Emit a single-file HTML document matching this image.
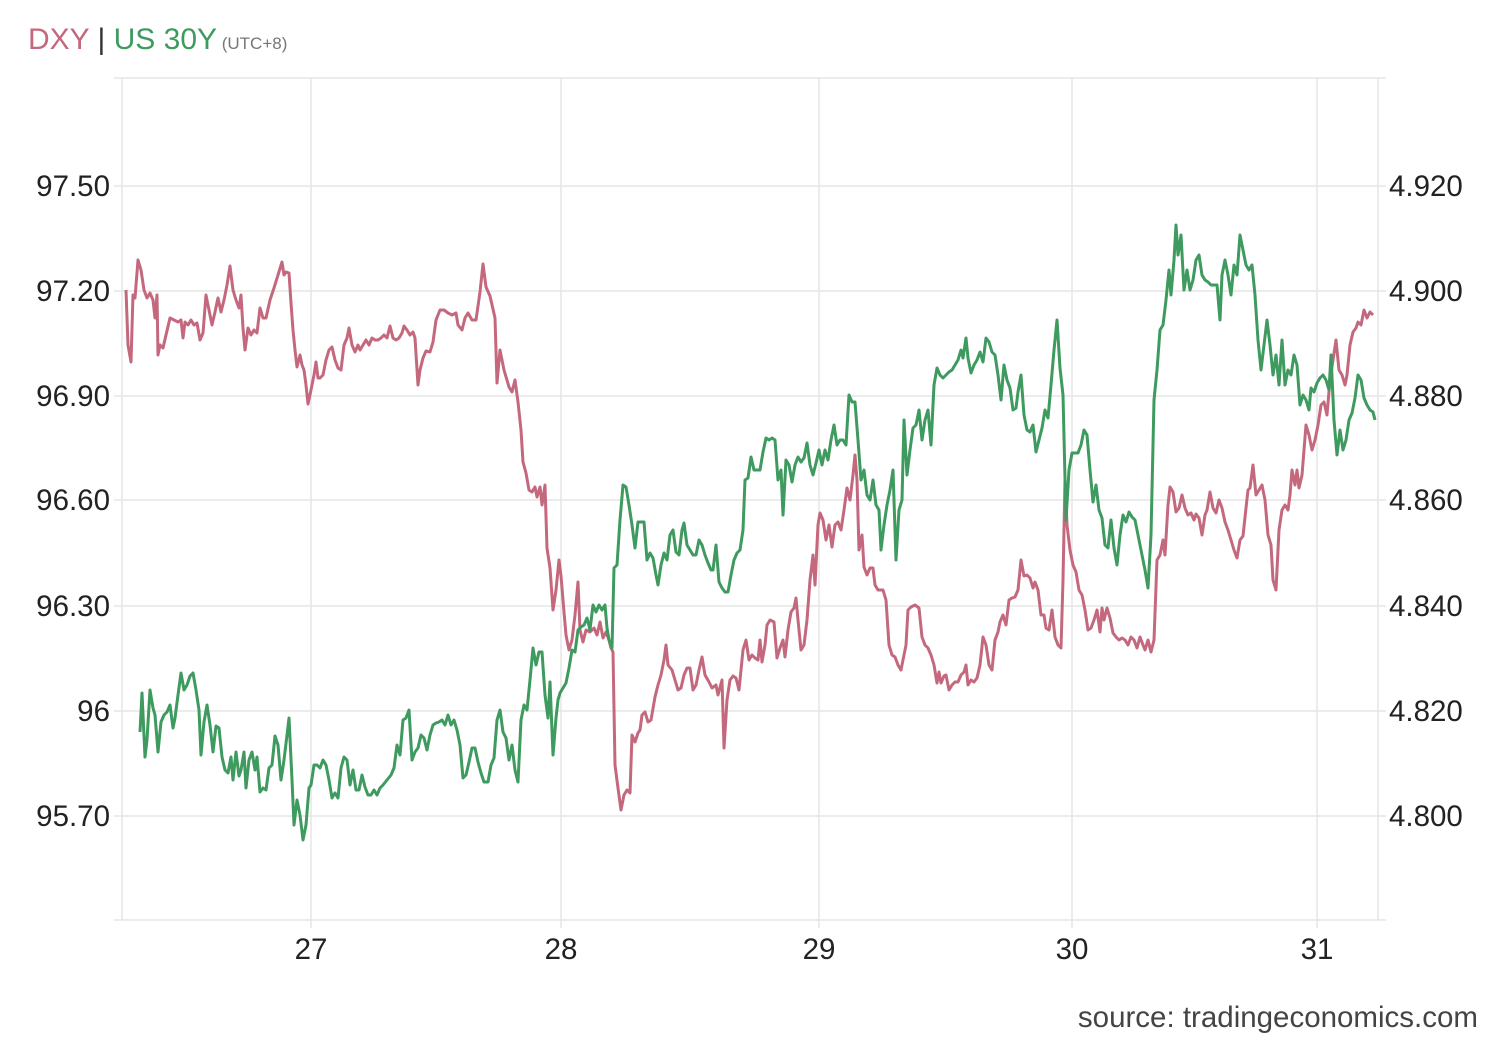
<!DOCTYPE html>
<html><head><meta charset="utf-8"><style>
body{margin:0;background:#fff;width:1500px;height:1040px;overflow:hidden;font-family:"Liberation Sans",Arial,sans-serif}
</style></head><body>
<svg width="1500" height="1040" xmlns="http://www.w3.org/2000/svg" font-family="Liberation Sans, Arial, sans-serif">
<rect width="1500" height="1040" fill="#fff"/>
<text x="28" y="49" font-size="30"><tspan fill="#c4687e">DXY</tspan><tspan fill="#333"> | </tspan><tspan fill="#3e9a5e">US 30Y</tspan><tspan fill="#777" font-size="17"> (UTC+8)</tspan></text>
<g stroke="#e6e6e6" stroke-width="1.5" fill="none">
<line x1="114" y1="78" x2="1386" y2="78"/>
<line x1="114" y1="186" x2="1386" y2="186"/>
<line x1="114" y1="291" x2="1386" y2="291"/>
<line x1="114" y1="396" x2="1386" y2="396"/>
<line x1="114" y1="500" x2="1386" y2="500"/>
<line x1="114" y1="606" x2="1386" y2="606"/>
<line x1="114" y1="711" x2="1386" y2="711"/>
<line x1="114" y1="816" x2="1386" y2="816"/>
<line x1="114" y1="920" x2="1386" y2="920"/>
<line x1="122" y1="78" x2="122" y2="920"/>
<line x1="1378" y1="78" x2="1378" y2="920"/>
<line x1="311" y1="78" x2="311" y2="928"/>
<line x1="561" y1="78" x2="561" y2="928"/>
<line x1="819" y1="78" x2="819" y2="928"/>
<line x1="1072" y1="78" x2="1072" y2="928"/>
<line x1="1317" y1="78" x2="1317" y2="928"/>
</g>
<g font-size="29.5" fill="#222">
<g text-anchor="end">
<text x="110" y="196">97.50</text><text x="110" y="301">97.20</text><text x="110" y="406">96.90</text><text x="110" y="510">96.60</text><text x="110" y="616">96.30</text><text x="110" y="721">96</text><text x="110" y="826">95.70</text>
</g>
<g text-anchor="start">
<text x="1389" y="196">4.920</text><text x="1389" y="301">4.900</text><text x="1389" y="406">4.880</text><text x="1389" y="510">4.860</text><text x="1389" y="616">4.840</text><text x="1389" y="721">4.820</text><text x="1389" y="826">4.800</text>
</g>
<g text-anchor="middle">
<text x="311" y="959">27</text><text x="561" y="959">28</text><text x="819" y="959">29</text><text x="1072" y="959">30</text><text x="1317" y="959">31</text>
</g>
<text x="1478" y="1027" text-anchor="end" fill="#444">source: tradingeconomics.com</text>
</g>
<polyline fill="none" stroke="#c4687e" stroke-width="3" stroke-linejoin="round" points="126,290 128,345 131,362 133,295 135,298 138,260 141,270 144,290 147,298 150,293 153,300 155,318 157,295 158,355 160,345 163,348 166,335 170,318 174,320 178,322 181,320 183,338 185,322 188,325 191,320 194,325 197,323 200,340 203,333 206,295 209,310 212,325 215,312 218,298 221,312 224,300 227,285 230,266 233,290 236,300 239,308 241,295 243,328 245,350 248,328 251,335 254,330 257,333 260,308 263,318 266,318 270,300 274,288 278,275 282,262 284,275 286,272 289,273 291,303 293,330 295,350 297,367 300,355 302,365 304,370 306,385 308,404 311,390 314,375 316,362 318,378 320,378 323,375 326,360 329,350 332,347 335,360 338,368 341,370 344,345 347,338 349,328 352,345 355,352 358,345 360,350 363,345 366,340 369,345 372,338 375,340 378,340 381,338 384,335 387,338 390,326 393,338 396,340 399,338 402,333 404,326 407,330 410,335 413,332 415,338 418,385 420,370 423,358 426,351 430,352 433,342 436,320 440,310 444,310 448,313 452,315 456,313 458,325 462,330 465,318 468,313 472,320 476,320 480,292 483,264 486,287 490,296 495,318 497,383 500,350 504,370 509,387 512,392 515,380 518,402 521,430 523,462 526,473 529,490 532,492 535,487 537,497 540,487 542,505 545,485 547,548 550,568 553,610 556,590 559,560 561,576 564,612 566,635 569,650 572,640 575,615 578,582 580,630 583,642 586,630 590,632 594,628 597,635 600,622 603,638 606,632 609,640 611,648 613,652 615,765 618,788 621,810 624,795 627,790 630,793 632,735 635,742 638,733 640,730 642,715 645,712 648,722 651,720 655,697 658,685 661,675 664,660 666,645 668,665 672,670 675,680 678,690 681,688 684,675 687,668 690,668 693,690 696,685 699,670 702,657 705,675 709,682 712,688 716,685 718,695 722,680 724,748 727,700 730,680 733,676 736,678 739,690 741,670 743,650 746,640 749,660 752,655 755,658 758,660 760,640 762,662 765,645 767,625 770,620 774,622 777,658 780,648 783,640 785,657 788,630 791,612 794,608 796,598 798,620 801,650 804,645 807,620 810,580 813,555 815,585 818,525 820,513 823,520 826,540 829,525 832,547 835,525 838,522 841,530 844,510 847,488 850,500 853,475 855,455 857,480 859,550 862,535 864,567 867,575 870,568 873,568 875,585 878,590 883,590 886,600 889,645 892,655 895,657 898,665 901,670 903,660 906,645 908,610 911,607 915,605 919,608 922,637 925,645 928,648 931,655 934,665 937,683 939,672 941,683 944,676 946,675 949,690 952,685 955,682 958,682 961,675 964,672 966,665 968,685 971,680 974,682 977,678 980,665 983,637 986,645 989,665 992,670 995,640 998,632 1000,622 1003,615 1006,625 1009,600 1012,598 1015,597 1018,590 1021,560 1024,576 1027,575 1030,578 1033,588 1035,582 1038,590 1041,615 1044,615 1046,628 1049,630 1052,610 1055,637 1058,645 1061,648 1063,580 1065,480 1067,525 1070,550 1073,565 1076,572 1079,590 1082,595 1085,610 1088,630 1091,628 1094,620 1097,610 1100,632 1102,608 1104,620 1107,608 1110,618 1113,633 1116,637 1119,640 1122,638 1125,640 1128,645 1131,637 1134,640 1137,648 1140,637 1143,645 1145,650 1148,640 1151,652 1154,640 1157,560 1160,555 1163,540 1165,555 1168,505 1170,487 1173,492 1176,512 1179,508 1182,495 1185,508 1188,515 1191,513 1194,520 1196,514 1199,518 1202,535 1205,515 1207,510 1210,492 1213,508 1216,513 1219,500 1222,508 1225,522 1228,530 1231,540 1234,550 1237,558 1240,540 1243,536 1246,508 1248,490 1250,488 1253,465 1256,495 1259,490 1262,485 1265,500 1268,535 1271,545 1273,580 1276,590 1279,530 1282,510 1285,505 1288,510 1290,495 1292,470 1295,485 1297,470 1299,488 1302,475 1304,450 1306,425 1309,435 1312,450 1315,440 1318,425 1321,405 1324,402 1327,415 1330,380 1333,360 1336,340 1339,370 1342,375 1345,385 1347,375 1350,345 1353,332 1356,328 1358,322 1361,325 1364,310 1367,318 1370,312 1373,315"/>
<polyline fill="none" stroke="#3e9a5e" stroke-width="3" stroke-linejoin="round" points="140,732 142,693 145,757 147,740 150,690 153,708 155,715 158,752 161,722 164,715 167,712 170,705 173,728 175,718 178,695 181,673 184,690 187,685 190,676 193,673 196,690 199,710 201,755 204,722 207,705 210,725 213,752 216,726 219,728 222,757 225,770 228,773 231,757 233,780 236,752 239,776 241,770 244,752 246,788 249,760 252,752 255,770 257,757 260,792 263,788 266,790 269,768 272,765 275,736 278,745 281,780 284,760 287,735 289,718 292,780 294,825 297,800 300,815 303,840 306,825 309,788 311,785 314,765 317,765 320,768 323,760 326,765 329,780 332,798 335,793 338,798 341,768 344,757 347,760 350,785 353,770 356,790 359,790 362,775 365,787 368,795 371,795 374,790 377,795 380,788 383,785 387,780 391,775 394,768 397,745 400,755 403,720 406,718 409,710 412,760 415,752 418,748 421,735 424,738 427,750 430,735 433,725 436,723 439,722 442,720 445,725 448,715 451,725 454,720 457,730 460,745 463,778 466,775 469,762 472,748 475,748 478,762 481,773 484,782 488,782 491,765 494,758 497,720 500,710 503,732 506,738 509,760 512,745 515,770 518,782 521,720 524,705 527,710 530,680 533,648 536,665 539,652 542,652 545,695 548,718 550,682 553,755 556,718 558,700 560,693 563,688 566,683 569,668 572,650 575,652 578,630 581,627 584,625 587,618 590,630 593,605 596,612 599,605 602,610 605,605 607,628 609,640 612,648 614,568 617,565 620,520 623,485 626,487 629,505 632,525 635,548 638,522 641,522 644,522 647,560 650,553 653,558 656,575 658,585 661,565 664,553 667,560 670,535 673,530 676,552 679,555 682,530 684,523 687,545 690,550 693,555 696,555 699,540 702,545 705,555 708,563 711,570 713,570 716,545 719,582 722,588 725,592 728,592 731,575 734,560 737,553 740,550 743,530 745,480 748,478 751,457 754,470 757,470 760,470 763,452 766,438 769,440 772,438 775,440 778,480 781,470 783,515 786,460 789,465 792,482 795,465 798,457 801,462 804,458 807,443 810,465 813,475 816,463 819,450 822,465 825,450 828,460 831,440 834,425 837,445 840,440 843,440 846,445 849,395 852,402 855,402 858,440 861,480 864,470 867,495 870,500 873,480 876,505 879,510 881,550 884,525 887,505 890,490 893,470 896,560 899,510 902,500 904,420 907,475 910,450 913,428 916,425 919,410 922,440 925,420 928,410 931,445 934,385 937,368 940,375 943,378 946,375 949,372 952,370 955,365 958,360 961,350 963,358 966,338 968,358 971,373 974,365 977,360 980,352 983,362 986,338 989,342 992,352 995,355 998,375 1001,400 1004,365 1007,380 1010,388 1013,410 1016,408 1018,392 1021,375 1024,415 1027,430 1030,432 1033,425 1036,452 1039,440 1042,428 1045,410 1048,418 1051,385 1054,350 1057,320 1060,368 1063,395 1066,520 1069,470 1072,453 1075,453 1078,453 1081,445 1084,430 1087,435 1090,470 1093,502 1096,485 1099,510 1102,518 1105,545 1108,548 1111,520 1114,548 1117,565 1120,535 1123,515 1126,522 1129,512 1132,517 1135,520 1138,535 1141,550 1145,570 1148,588 1151,535 1154,400 1157,370 1160,330 1163,325 1166,300 1169,270 1171,295 1174,260 1176,225 1178,255 1181,235 1184,290 1187,270 1190,290 1193,280 1196,260 1199,255 1202,275 1205,280 1208,282 1211,285 1214,285 1217,285 1220,320 1222,275 1225,260 1228,275 1231,295 1234,265 1237,275 1240,235 1243,250 1246,265 1249,270 1252,265 1255,295 1258,340 1261,370 1264,345 1267,320 1270,345 1273,375 1276,355 1279,385 1282,340 1285,385 1288,370 1291,375 1294,355 1297,365 1300,405 1303,395 1306,400 1309,410 1311,388 1314,392 1317,383 1320,378 1323,375 1326,380 1329,390 1331,355 1334,420 1337,455 1340,430 1343,450 1346,440 1349,420 1352,413 1355,398 1358,375 1361,380 1364,398 1367,405 1370,410 1373,412 1375,420"/>
</svg>
</body></html>
